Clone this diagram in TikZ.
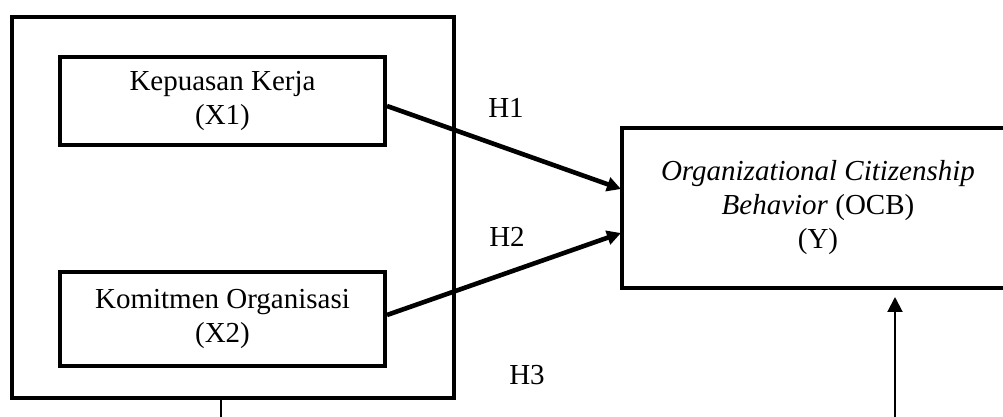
\documentclass[tikz,border=0pt]{standalone}
\usepackage{fontspec}
\setmainfont{Liberation Serif}
\usetikzlibrary{arrows.meta,calc}
\begin{document}
\begin{tikzpicture}[x=0.5pt,y=-0.5pt,
  every node/.style={font=\fontsize{14.5}{17}\selectfont},
  varbox/.style={draw,line width=2.3pt,inner sep=0pt,align=center},
  thickarrow/.style={line width=2.3pt,-{Triangle[length=7pt,width=7pt]}},
  thinline/.style={line width=1pt},
  thinarrow/.style={line width=1pt,-{Triangle[length=7.5pt,width=7.5pt]}},
  hlabel/.style={inner sep=0pt}]
\useasboundingbox (0,0) rectangle (1003,417);
\clip (0,0) rectangle (1003,417);
\node[varbox,minimum width=442pt*0.5,minimum height=381pt*0.5] (outer) at (233,207.5) {};
\node[varbox,minimum width=325pt*0.5,minimum height=88pt*0.5] (x1) at (222.5,101) {Kepuasan Kerja\\(X1)};
\node[varbox,minimum width=325pt*0.5,minimum height=94pt*0.5] (x2) at (222.5,319) {Komitmen Organisasi\\(X2)};
\node[varbox,minimum width=392pt*0.5,minimum height=160pt*0.5] (y) at (818,208) {\textit{Organizational Citizenship}\\\textit{Behavior} (OCB)\\(Y)};
\coordinate (s1) at (387,106);
\coordinate (e1) at (621,189);
\coordinate (s2) at (387,315);
\coordinate (e2) at (621,233);
\draw[thickarrow] (s1) -- (e1);
\draw[thickarrow] (s2) -- (e2);
\coordinate (d1) at (221,420);
\draw[thinline] (outer.south -| d1) -- (d1);
\coordinate (u0) at (895,420);
\coordinate (u1) at (895,297);
\draw[thinarrow] (u0) -- (u1);
\node[hlabel] (h1) at (506,108) {H1};
\node[hlabel] (h2) at (507,237) {H2};
\node[hlabel] (h3) at (527,375) {H3};
\end{tikzpicture}
\end{document}
